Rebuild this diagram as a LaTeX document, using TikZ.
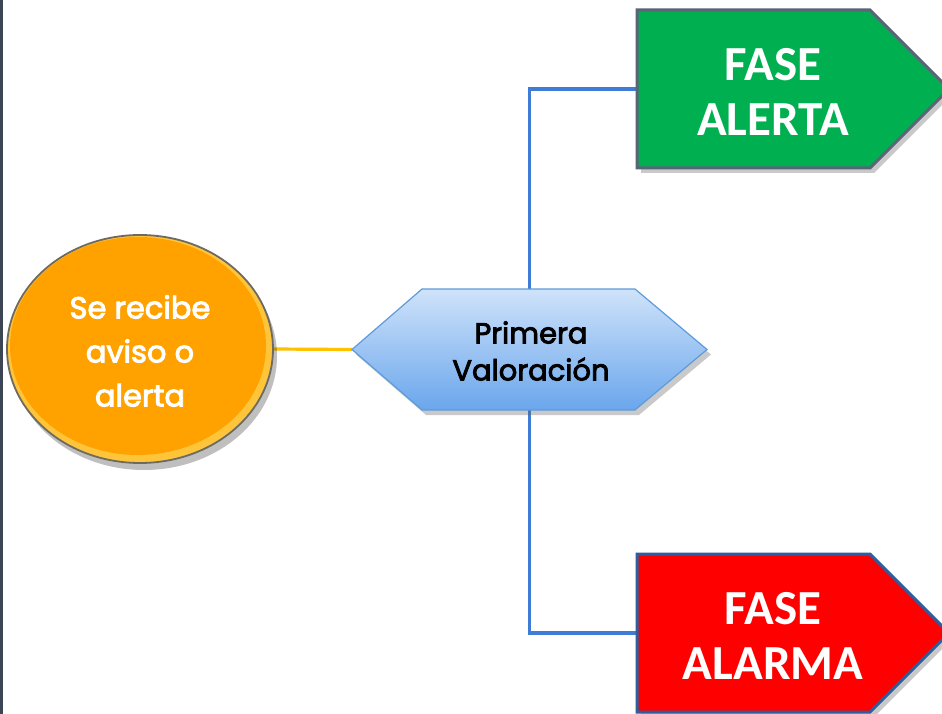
\documentclass[tikz,border=0pt]{standalone}
\usepackage{fontspec}
\newfontfamily\gothic[FakeBold=3]{Poppins}
\newfontfamily\calib{Carlito}
\usetikzlibrary{shadows,calc,shapes.geometric}
\definecolor{frame}{HTML}{3B4553}
\definecolor{orangefill}{HTML}{FFA200}
\definecolor{orangerim}{HTML}{FFC53A}
\definecolor{ellborder}{HTML}{6E6A60}
\definecolor{yellowline}{HTML}{FFC000}
\definecolor{blueline}{HTML}{3E7CD6}
\definecolor{hextop}{HTML}{CFE3FA}
\definecolor{hexbot}{HTML}{6AA6EC}
\definecolor{hexborder}{HTML}{5E9BD8}
\definecolor{greenfill}{HTML}{00B050}
\definecolor{greenborder}{HTML}{596577}
\definecolor{redfill}{HTML}{FF0000}
\definecolor{redborder}{HTML}{2E5E9E}
\tikzset{
  anchorbox/.style={inner sep=0pt, outer sep=0pt},
  conn/.style={line width=3.2pt},
  phasetext/.style={text=white, font=\calib\bfseries\fontsize{49}{55}\selectfont, align=center},
  shadowed/.style={drop shadow={shadow xshift=4pt, shadow yshift=-5pt, opacity=0.35, fill=black!60}},
}
\begin{document}
\begin{tikzpicture}[x=1pt,y=-1pt]
\useasboundingbox (0,0) rectangle (942,714);
\fill[white] (0,0) rectangle (942,714);
\draw[frame, line width=3pt] (1.5,0) -- (1.5,714);
% anchor nodes
\node[anchorbox, ellipse, minimum width=266pt, minimum height=228pt] (ell) at (140,349) {};
\node[anchorbox, minimum width=355pt, minimum height=121pt] (hex) at (529.5,349.5) {};
\node[anchorbox, minimum width=0pt, minimum height=158pt] (green) at (637,89) {};
\node[anchorbox, minimum width=0pt, minimum height=158pt] (red) at (637,633) {};
% connectors
\draw[conn, yellowline] (ell.east) -- (hex.west);
\draw[conn, blueline] (hex.north) |- (green.west);
\draw[conn, blueline] (hex.south) |- (red.west);
% ellipse
\fill[black, opacity=0.25] (144,356) ellipse [x radius=133pt, y radius=114pt];
\filldraw[fill=orangerim, draw=ellborder, line width=1.8pt] (ell.center) ellipse [x radius=133pt, y radius=114pt];
\fill[orangefill] (138,346) ellipse [x radius=128pt, y radius=109pt];
\node[text=white, font=\gothic\fontsize{30.5}{44}\selectfont, align=center] (etext) at (140,351) {Se recibe\\aviso o\\alerta};
% hexagon
\path[shadowed, shade, top color=hextop, bottom color=hexbot, draw=hexborder, line width=1.2pt]
  (hex.west) -- ($(hex.north west)+(70,0)$) -- ($(hex.north east)+(-72,0)$) -- (hex.east)
  -- ($(hex.south east)+(-72,0)$) -- ($(hex.south west)+(70,0)$) -- cycle;
\node[text=black, font=\gothic\fontsize{29}{37}\selectfont, align=center] (htext) at (531,351) {Primera\\Valoración};
% green phase arrow
\path[shadowed, fill=greenfill, draw=greenborder, line width=3pt]
  (637,10) -- (870,10) -- (949,89) -- (870,168) -- (637,168) -- cycle;
\node[phasetext] (gtext) at (773,92) {FASE\\ALERTA};
% red phase arrow
\path[shadowed, fill=redfill, draw=redborder, line width=3pt]
  (637,554) -- (870,554) -- (949,633) -- (870,712) -- (637,712) -- cycle;
\node[phasetext] (rtext) at (773,636) {FASE\\ALARMA};
\end{tikzpicture}
\end{document}
